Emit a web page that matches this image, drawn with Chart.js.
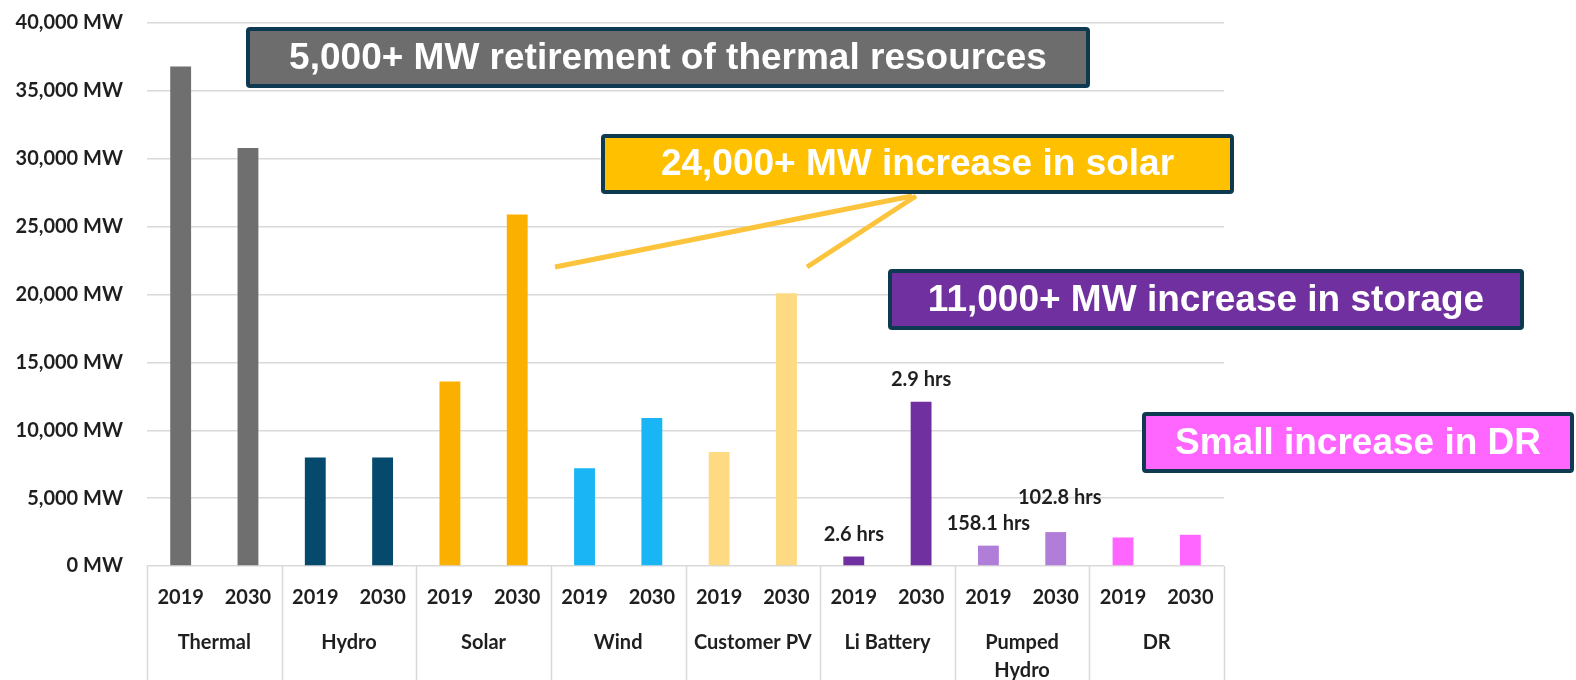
<!DOCTYPE html>
<html><head><meta charset="utf-8">
<script src="https://cdn.jsdelivr.net/npm/chart.js@4.4.0/dist/chart.umd.min.js"></script>
<style>html,body{margin:0;padding:0;background:#fff;}#wrap{width:1576px;height:680px;}</style>
</head><body><div id="wrap"><canvas id="c" width="1576" height="680"></canvas></div>
<script>
// ---- data ----
const categories = ['Thermal', 'Hydro', 'Solar', 'Wind', 'Customer PV', 'Li Battery', ['Pumped', 'Hydro'], 'DR'];
const years = ['2019', '2030'];
const values2019 = [36800, 8000, 13600, 7200, 8400, 700, 1500, 2100];
const values2030 = [30800, 8000, 25900, 10900, 20100, 12100, 2500, 2300];
const durations2019 = [null, null, null, null, null, '2.6 hrs', '158.1 hrs', null];
const durations2030 = [null, null, null, null, null, '2.9 hrs', '102.8 hrs', null];
const categoryColors = ['#6f6f6f', '#054a6c', '#fbb000', '#19b5f4', '#fedb82', '#7030a0', '#b07ed8', '#ff66ff'];
const yMin = 0, yMax = 40000, yStep = 5000;

// ---- build table ----
const flatLabels = [], flatValues = [], flatColors = [], flatDur = [];
categories.forEach((c, i) => {
  flatLabels.push(years[0], years[1]);
  flatValues.push(values2019[i], values2030[i]);
  flatColors.push(categoryColors[i], categoryColors[i]);
  flatDur.push(durations2019[i], durations2030[i]);
});

const FONT = 'Lato, "Open Sans", sans-serif';
const TXT = '#1f1f1f';
const GRID = '#d9d9d9';

// label offsets (style) for duration labels: [dx, dy above bar top]
const durOffsets = {10: [0, 22], 11: [0, 22], 12: [0, 22], 13: [4, 35]};

const callouts = [
  {text: '5,000+ MW retirement of thermal resources', fill: '#6d6d6d', x: 246, y: 27, w: 844, h: 61},
  {text: '24,000+ MW increase in solar', fill: '#ffc000', x: 601, y: 134, w: 633, h: 60},
  {text: '11,000+ MW increase in storage', fill: '#7030a0', x: 888, y: 269, w: 636, h: 61},
  {text: 'Small increase in DR', fill: '#ff66ff', x: 1142, y: 412, w: 432, h: 61}
];
const leaderLines = [
  [[555, 267], [912, 196]],
  [[807, 267], [916, 196]]
];

const overlay = {
  id: 'overlay',
  afterDraw(chart) {
    const ctx = chart.ctx;
    const xs = chart.scales.x;
    const area = chart.chartArea;
    const slot = xs.getPixelForValue(1) - xs.getPixelForValue(0);
    // group separators
    ctx.save();
    ctx.strokeStyle = GRID; ctx.lineWidth = 1.5;
    for (let g = 0; g <= categories.length; g++) {
      const px = Math.round(xs.getPixelForValue(g * 2) - slot / 2) + 0.5;
      ctx.beginPath(); ctx.moveTo(px, area.bottom); ctx.lineTo(px, chart.height); ctx.stroke();
    }
    ctx.restore();
    // duration labels
    const meta = chart.getDatasetMeta(0);
    ctx.save();
    ctx.font = 'bold 20px ' + FONT; ctx.fillStyle = TXT;
    ctx.textAlign = 'center'; ctx.textBaseline = 'middle';
    flatDur.forEach((t, i) => {
      if (!t) return;
      const el = meta.data[i];
      const off = durOffsets[i] || [0, 22];
      ctx.fillText(t, el.x + off[0], el.y - off[1]);
    });
    ctx.restore();
    // leader lines
    ctx.save();
    ctx.strokeStyle = '#fcc43c'; ctx.lineWidth = 5; ctx.lineCap = 'butt';
    leaderLines.forEach(l => { ctx.beginPath(); ctx.moveTo(l[0][0], l[0][1]); ctx.lineTo(l[1][0], l[1][1]); ctx.stroke(); });
    ctx.restore();
    // callout boxes
    callouts.forEach(c => {
      ctx.save();
      ctx.fillStyle = c.fill; ctx.strokeStyle = '#0d3a51'; ctx.lineWidth = 4; ctx.lineJoin = 'round';
      ctx.beginPath(); ctx.roundRect(c.x + 2, c.y + 2, c.w - 4, c.h - 4, 2); ctx.fill(); ctx.stroke();
      ctx.font = 'bold 37px "Liberation Sans", Arial, sans-serif';
      ctx.fillStyle = '#ffffff'; ctx.textAlign = 'center'; ctx.textBaseline = 'middle';
      ctx.fillText(c.text, c.x + c.w / 2, c.y + c.h / 2 + 1);
      ctx.restore();
    });
  }
};

new Chart(document.getElementById('c'), {
  type: 'bar',
  data: {
    labels: flatLabels,
    datasets: [{data: flatValues, backgroundColor: flatColors, barPercentage: 0.31, categoryPercentage: 1}]
  },
  options: {
    responsive: false,
    animation: false,
    layout: {padding: {top: 23, right: 352, left: 0, bottom: 0}},
    plugins: {legend: {display: false}, tooltip: {enabled: false}},
    scales: {
      x: {
        weight: 0,
        grid: {display: false},
        border: {display: false},
        ticks: {font: {family: FONT, size: 20, weight: 'bold'}, color: TXT, padding: 12, maxRotation: 0, autoSkip: false},
        afterFit: s => { s.height = 46; }
      },
      x2: {
        type: 'category',
        labels: categories,
        offset: true,
        position: 'bottom',
        weight: 1,
        grid: {display: false},
        border: {display: false},
        ticks: {font: {family: FONT, size: 20, weight: 'bold', lineHeight: 1.4}, color: TXT, padding: 9, maxRotation: 0, autoSkip: false},
        afterFit: s => { s.height = 68; }
      },
      y: {
        min: yMin, max: yMax,
        grid: {color: GRID, lineWidth: 1.5, drawTicks: false},
        border: {display: false},
        ticks: {
          stepSize: yStep,
          font: {family: FONT, size: 20, weight: 'bold'}, color: TXT, padding: 24,
          callback: v => v.toLocaleString('en-US') + ' MW'
        },
        afterFit: s => { s.width = 147; s.paddingTop = 0; s.paddingBottom = 0; }
      }
    }
  },
  plugins: [overlay]
});
</script></body></html>
